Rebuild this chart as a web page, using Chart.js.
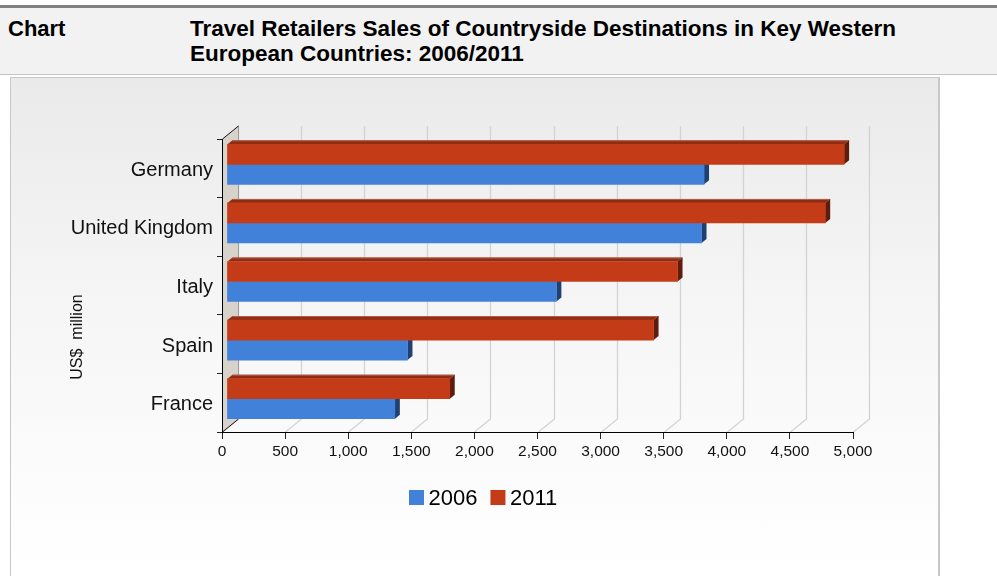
<!DOCTYPE html>
<html>
<head>
<meta charset="utf-8">
<script src="https://cdn.jsdelivr.net/npm/chart.js@4/dist/chart.umd.min.js"></script>
<style>
  html, body { margin:0; padding:0; background:#fff; width:997px; height:576px; overflow:hidden; font-family:"Liberation Sans", Arial, sans-serif; }
  #topline { position:absolute; left:0; top:5px; width:997px; height:3px; background:#808080; }
  #header { position:absolute; left:0; top:8px; width:997px; height:66px; background:#f2f2f2; border-bottom:1px solid #c4c4c4; }
  .htxt { position:absolute; top:16px; font-weight:bold; font-size:22px; line-height:25px; color:#000; }
  #hleft { left:8px; }
  #htitle { left:190px; width:745px; font-size:22.5px; }
  #panel { position:absolute; left:10px; top:77px; width:927px; height:520px; border-left:1px solid #c8c8c8; border-top:1px solid #c8c8c8; border-right:2px solid #c8c8c8; background:linear-gradient(to bottom, #eaeaea 0%, #f6f6f6 45%, #ffffff 95%); }
  #c { position:absolute; left:0; top:0; }
</style>
</head>
<body>
<div id="topline"></div>
<div id="header">
</div>
<div class="htxt" id="hleft">Chart</div>
<div class="htxt" id="htitle">Travel Retailers Sales of Countryside Destinations in Key Western European Countries: 2006/2011</div>
<div id="panel"></div>
<canvas id="c" width="997" height="576"></canvas>
<script>
// ---- data ----
const categories = ['Germany', 'United Kingdom', 'Italy', 'Spain', 'France'];
const seriesNames = ['2006', '2011'];
const values2006 = [3780, 3760, 2610, 1430, 1330];
const values2011 = [4890, 4740, 3570, 3380, 1765];
const xTickValues = [0, 500, 1000, 1500, 2000, 2500, 3000, 3500, 4000, 4500, 5000];
const xTickLabels = ['0', '500', '1,000', '1,500', '2,000', '2,500', '3,000', '3,500', '4,000', '4,500', '5,000'];
const axisTitle = 'US$  million';

// ---- styling ----
const FONT = '"Liberation Sans", Arial, sans-serif';
const BLUE = '#4281d9', BLUE_SIDE = '#1f4070', BLUE_TOP = '#2d5a9c';
const RED = '#c43c17', RED_SIDE = '#5f1b0b', RED_TOP = '#8f2c14';
const WALL = { dx: 16, dy: -13 };
const BAR_SHIFT = { dx: 5, dy: -4 };
const BAR_DEPTH = { dx: 5, dy: -4 };

const threeD = {
  id: 'threeD',
  beforeDraw(chart) {
    const ctx = chart.ctx, a = chart.chartArea, xs = chart.scales.x;
    ctx.save();
    // back grid + floor lines
    ctx.strokeStyle = '#d3d3d3';
    ctx.lineWidth = 1.3;
    xs.ticks.forEach(t => {
      const px = Math.round(xs.getPixelForValue(t.value)) + 0.5;
      ctx.beginPath();
      ctx.moveTo(px, a.bottom);
      ctx.lineTo(px + WALL.dx, a.bottom + WALL.dy);
      ctx.lineTo(px + WALL.dx, a.top + WALL.dy);
      ctx.stroke();
    });
    // left wall
    const x0 = Math.round(xs.getPixelForValue(0)) + 0.5;
    ctx.fillStyle = '#d7d3cb';
    ctx.beginPath();
    ctx.moveTo(x0, a.top);
    ctx.lineTo(x0 + WALL.dx, a.top + WALL.dy);
    ctx.lineTo(x0 + WALL.dx, a.bottom + WALL.dy);
    ctx.lineTo(x0, a.bottom);
    ctx.closePath();
    ctx.fill();
    ctx.strokeStyle = '#9a9a9a';
    ctx.lineWidth = 1;
    ctx.beginPath();
    ctx.moveTo(x0 + WALL.dx, a.top + WALL.dy);
    ctx.lineTo(x0 + WALL.dx, a.bottom + WALL.dy);
    ctx.stroke();
    ctx.strokeStyle = '#111';
    ctx.beginPath();
    ctx.moveTo(x0, a.top);
    ctx.lineTo(x0 + WALL.dx, a.top + WALL.dy);
    ctx.moveTo(x0, a.bottom);
    ctx.lineTo(x0 + WALL.dx, a.bottom + WALL.dy);
    ctx.stroke();
    ctx.restore();
  },
  beforeDatasetsDraw(chart) {
    const ctx = chart.ctx;
    ctx.save();
    ctx.translate(BAR_SHIFT.dx, BAR_SHIFT.dy);
    // draw side/top faces underneath the front faces
    const order = [1, 0]; // 2006 (index 1) first, then 2011
    order.forEach(di => {
      const meta = chart.getDatasetMeta(di);
      const ds = chart.data.datasets[di];
      meta.data.forEach(el => {
        const p = el.getProps(['x', 'y', 'base', 'height'], true);
        const top = p.y - p.height / 2, bot = p.y + p.height / 2;
        const x1 = p.x, xb = p.base;
        // top face
        ctx.fillStyle = ds.topColor;
        ctx.beginPath();
        ctx.moveTo(xb, top);
        ctx.lineTo(x1, top);
        ctx.lineTo(x1 + BAR_DEPTH.dx, top + BAR_DEPTH.dy);
        ctx.lineTo(xb + BAR_DEPTH.dx, top + BAR_DEPTH.dy);
        ctx.closePath();
        ctx.fill();
        ctx.strokeStyle = ds.edgeColor;
        ctx.lineWidth = 1;
        ctx.beginPath();
        ctx.moveTo(xb + BAR_DEPTH.dx, top + BAR_DEPTH.dy + 0.5);
        ctx.lineTo(x1 + BAR_DEPTH.dx, top + BAR_DEPTH.dy + 0.5);
        ctx.stroke();
        // side face
        ctx.fillStyle = ds.sideColor;
        ctx.beginPath();
        ctx.moveTo(x1, top);
        ctx.lineTo(x1 + BAR_DEPTH.dx, top + BAR_DEPTH.dy);
        ctx.lineTo(x1 + BAR_DEPTH.dx, bot + BAR_DEPTH.dy);
        ctx.lineTo(x1, bot);
        ctx.closePath();
        ctx.fill();
      });
    });
  },
  afterDatasetsDraw(chart) {
    chart.ctx.restore();
  },
  afterDraw(chart) {
    const ctx = chart.ctx;
    ctx.save();
    // axis title
    ctx.translate(78, 337);
    ctx.rotate(-Math.PI / 2);
    ctx.font = '16px ' + FONT;
    ctx.fillStyle = '#111';
    ctx.textAlign = 'center';
    ctx.textBaseline = 'middle';
    ctx.fillText(axisTitle, 0, 0);
    ctx.restore();
    // legend (2006, 2011)
    ctx.save();
    ctx.font = '22px ' + FONT;
    ctx.textBaseline = 'alphabetic';
    let x = 409;
    seriesNames.forEach(name => {
      const ds = chart.data.datasets.find(d => d.label === name);
      ctx.fillStyle = ds.backgroundColor;
      ctx.fillRect(x, 490, 15, 15);
      ctx.fillStyle = '#000';
      ctx.fillText(name, x + 19.5, 505);
      x += 19.5 + ctx.measureText(name).width + 13;
    });
    ctx.restore();
  }
};

new Chart(document.getElementById('c'), {
  type: 'bar',
  data: {
    labels: categories,
    datasets: [
      { label: seriesNames[1], data: values2011, backgroundColor: RED, sideColor: RED_SIDE, topColor: RED_TOP, edgeColor: '#b5604a', borderWidth: 0, barThickness: 20 },
      { label: seriesNames[0], data: values2006, backgroundColor: BLUE, sideColor: BLUE_SIDE, topColor: BLUE_TOP, edgeColor: '#5a86c4', borderWidth: 0, barThickness: 20 }
    ]
  },
  options: {
    indexAxis: 'y',
    responsive: false,
    devicePixelRatio: 1,
    animation: false,
    layout: { padding: { left: 0, top: 139, right: 144, bottom: 104 } },
    plugins: { legend: { display: false }, tooltip: { enabled: false }, title: { display: false } },
    scales: {
      x: {
        type: 'linear',
        min: 0, max: 5000,
        afterBuildTicks: s => { s.ticks = xTickValues.map(v => ({ value: v })); },
        afterFit: s => { s.height = 40; },
        grid: { drawOnChartArea: false, drawTicks: true, tickLength: 7, color: '#222', lineWidth: 1 },
        border: { display: true, color: '#000', width: 1 },
        ticks: {
          padding: 3,
          color: '#111',
          font: { family: FONT, size: 15.5 },
          maxRotation: 0,
          autoSkip: false,
          callback: (v, i) => xTickLabels[i]
        }
      },
      y: {
        type: 'category',
        afterFit: s => { s.width = 222; },
        grid: { drawOnChartArea: false, drawTicks: true, tickLength: 5, color: '#222', lineWidth: 1, offset: true },
        border: { display: true, color: '#000', width: 1 },
        ticks: {
          padding: 4,
          labelOffset: 2,
          color: '#111',
          font: { family: FONT, size: 20 }
        }
      }
    }
  },
  plugins: [threeD]
});
</script>
</body>
</html>
